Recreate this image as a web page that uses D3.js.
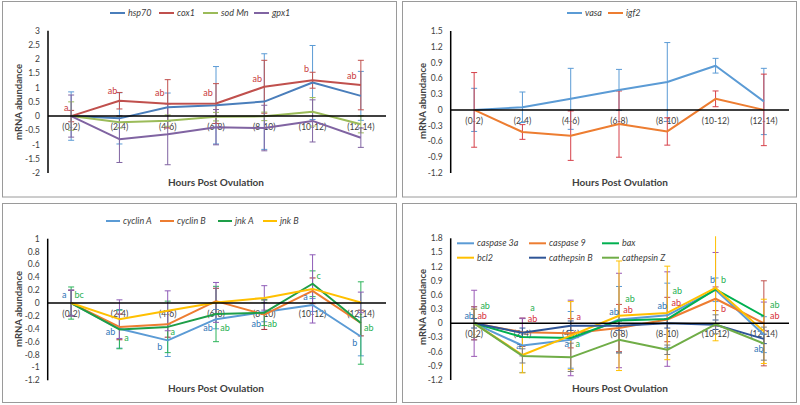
<!DOCTYPE html>
<html><head><meta charset="utf-8">
<script src="https://cdn.jsdelivr.net/npm/d3@7"></script>
<style>body{margin:0;background:#fff;} svg{display:block;font-family:Lato,"Open Sans",sans-serif;}</style>
</head><body><svg id="c" width="800" height="405"></svg>
<script>
// ---------- data ----------
const categories = ["(0-2)","(2-4)","(4-6)","(6-8)","(8-10)","(10-12)","(12-14)"];

// panel 1
const p1Ticks = [3,2.5,2,1.5,1,0.5,0,-0.5,-1,-1.5,-2];
const hsp70    = [0,-0.08,0.31,0.38,0.51,1.18,0.71];
const hsp70Err = [0.85,0.9,0.5,1.36,1.68,1.3,0.86];
const cox1     = [0,0.54,0.43,0.44,1.03,1.26,1.09];
const cox1Err  = [0.2,0.29,0.85,0.7,0.93,0.28,0.87];
const sodMn    = [0,-0.22,-0.16,-0.02,-0.01,0.15,-0.29];
const sodMnErr = [0.5,0.2,0.2,0.15,0.15,0.5,0.3];
const gpx1     = [0,-0.81,-0.64,-0.39,-0.42,-0.17,-0.76];
const gpx1Err  = [0.74,0.82,1.07,0.62,0.8,0.74,0.34];
const cox1Letters = ["a","ab","ab","ab","ab","b","ab"];
const cox1LetterY = [0.30,0.9,0.82,0.82,1.31,1.66,1.41];

// panel 2
const p2Ticks = [1.5,1.2,0.9,0.6,0.3,0,-0.3,-0.6,-0.9,-1.2];
const vasa     = [0,0.05,0.21,0.38,0.53,0.84,0.16];
const vasaErr  = [0.41,0.29,0.58,0.39,0.75,0.14,0.63];
const igf2     = [0,-0.42,-0.49,-0.27,-0.41,0.21,0.0];
const igf2Err  = [0.71,0.14,0.47,0.63,0.26,0.15,0.68];

// panel 3
const p3Ticks = [1,0.8,0.6,0.4,0.2,0,-0.2,-0.4,-0.6,-0.8,-1,-1.2];
const cyclinA    = [0,-0.40,-0.58,-0.25,-0.14,-0.03,-0.52];
const cyclinAErr = [0.2,0.3,0.25,0.15,0.15,0.1,0.3];
const cyclinB    = [0,-0.37,-0.33,0.03,-0.18,0.19,-0.31];
const cyclinBErr = [0.2,0.2,0.2,0.2,0.23,0.2,0.2];
const jnkA       = [0,-0.41,-0.37,-0.17,-0.15,0.30,-0.31];
const jnkAErr    = [0.25,0.3,0.4,0.43,0.2,0.2,0.64];
const jnkB       = [0,-0.25,-0.12,0.01,0.08,0.22,0.01];
const jnkBErr    = [0.2,0.3,0.31,0.31,0.19,0.53,0.16];
const cyclinALetters = ["a","ab","b","ab","ab","a","b"];
const cyclinALetterY = [0.13,-0.45,-0.68,-0.39,-0.32,0.09,-0.62];
const jnkALetters = ["bc","a","a","ab","ab","c","ab"];
const jnkALetterY = [0.13,-0.54,-0.44,-0.39,-0.32,0.42,-0.39];

// panel 4
const p4Ticks = [1.8,1.5,1.2,0.9,0.6,0.3,0,-0.3,-0.6,-0.9,-1.2];
const caspase3a    = [0,-0.47,-0.35,0.08,0.17,0.71,-0.24];
const caspase3aErr = [0.35,0.57,0.6,0.7,0.68,0.25,0.38];
const caspase9     = [0,-0.19,-0.21,-0.1,0.08,0.52,0.0];
const caspase9Err  = [0.35,0.3,0.31,0.5,0.47,0.25,0.9];
const bax          = [0,-0.29,-0.31,0.06,0.09,0.72,0.15];
const baxErr       = [0.7,0.4,0.8,1.0,1.0,0.78,0.3];
const bcl2         = [0,-0.67,-0.26,0.16,0.22,0.75,-0.17];
const bcl2Err      = [0.3,0.38,0.72,1.16,0.99,1.12,0.68];
const cathepsinB   = [0,-0.2,-0.05,-0.05,0.0,-0.03,-0.33];
const cathepsinBErr= [0.1,0.1,0.1,0.1,0.1,0.1,0.1];
const cathepsinZ   = [0,-0.69,-0.72,-0.35,-0.56,-0.02,-0.43];
const cathepsinZErr= [0.3,0.15,0.3,0.28,0.1,0.2,0.35];
const caspase3aLetters = ["ab","a","a","ab","ab","b","ab"];
const caspase3aLetterY = [0.15,-0.47,-0.44,0.25,0.38,0.92,-0.54];
const caspase9Letters  = ["ab","ab","a","ab","ab","b","ab"];
const caspase9LetterY  = [0.15,0.1,0.14,0.29,0.44,0.31,0.15];
const baxLetters       = ["ab","a","a","ab","ab","b","ab"];
const baxLetterY       = [0.38,0.32,-0.44,0.52,0.69,0.92,0.39];

// ---------- layout / styles ----------
const panels = [
  { box:[2.5,1.5,394,195.5], range:[47,385], axisX:48, top:30.7, bottom:173, domain:[-2,3], ticks:p1Ticks,
    xTitle:[216,182], yTitle:[19,102],
    legend:{y:[13], x:[110,159,203,254], len:15},
    series:[
      {name:"hsp70", v:hsp70, e:hsp70Err, c:"#4A7EBB", ec:"#5B9BD5"},
      {name:"cox1", v:cox1, e:cox1Err, c:"#C0504D", ec:"#C0504D"},
      {name:"sod Mn", v:sodMn, e:sodMnErr, c:"#9BBB59", ec:"#9BBB59"},
      {name:"gpx1", v:gpx1, e:gpx1Err, c:"#8064A2", ec:"#8064A2"}],
    letters:[{t:cox1Letters, y:cox1LetterY, dx:[-5,-7,-8,-8,-7,-6,-9], c:"#C8393B"}] },
  { box:[402.5,1.5,394,195.5], range:[450,788], axisX:450.7, top:31, bottom:173, domain:[-1.2,1.5], ticks:p2Ticks,
    xTitle:[620,182], yTitle:[423,101],
    legend:{y:[13], x:[567,608], len:15},
    series:[
      {name:"vasa", v:vasa, e:vasaErr, c:"#5B9BD5", ec:"#5B9BD5"},
      {name:"igf2", v:igf2, e:igf2Err, c:"#ED7D31", ec:"#D6404A"}],
    letters:[] },
  { box:[2.5,203.5,394,199], range:[47,385], axisX:47.7, top:238.7, bottom:380.3, domain:[-1.2,1], ticks:p3Ticks,
    xTitle:[216,388], yTitle:[19,309],
    legend:{y:[221], x:[106,160,218,263], len:14},
    series:[
      {name:"cyclin A", v:cyclinA, e:cyclinAErr, c:"#5B9BD5", ec:"#5B9BD5"},
      {name:"cyclin B", v:cyclinB, e:cyclinBErr, c:"#ED7D31", ec:"#A0303A"},
      {name:"jnk A", v:jnkA, e:jnkAErr, c:"#1E9E48", ec:"#2DB45A"},
      {name:"jnk B", v:jnkB, e:jnkBErr, c:"#FFC000", ec:"#8F5CB8"}],
    letters:[{t:cyclinALetters, y:cyclinALetterY, dx:[-7,-9,-8,-8,-8,-7,-6], c:"#2E75B6"},
             {t:jnkALetters, y:jnkALetterY, dx:[8,7,5,9,8,6,8], c:"#1FAF50"}] },
  { box:[402.5,203.5,394,199], range:[450,788], axisX:450.7, top:238.3, bottom:380, domain:[-1.2,1.8], ticks:p4Ticks,
    xTitle:[620,388], yTitle:[423,307],
    legend:{y:[243.3,257.7], x:[457,529,602], len:17, cols:3},
    series:[
      {name:"caspase 3a", v:caspase3a, e:caspase3aErr, c:"#5B9BD5", ec:"#5B9BD5"},
      {name:"caspase 9", v:caspase9, e:caspase9Err, c:"#ED7D31", ec:"#C0504D"},
      {name:"bax", v:bax, e:baxErr, c:"#00B050", ec:"#9B59B6"},
      {name:"bcl2", v:bcl2, e:bcl2Err, c:"#FFC000", ec:"#FFC000"},
      {name:"cathepsin B", v:cathepsinB, e:cathepsinBErr, c:"#2F5597", ec:"#2F5597"},
      {name:"cathepsin Z", v:cathepsinZ, e:cathepsinZErr, c:"#70AD47", ec:"#7F7F7F"}],
    letters:[{t:caspase3aLetters, y:caspase3aLetterY, dx:[-5,-4,-4,-5,-5,-3,-5], c:"#2E75B6"},
             {t:caspase9Letters, y:caspase9LetterY, dx:[8,10,8,9,9,8,11], c:"#D62F3A"},
             {t:baxLetters, y:baxLetterY, dx:[11,10,7,11,10,8,11], c:"#1FAF50"}] }
];

const svg = d3.select("#c");
svg.append("rect").attr("width",800).attr("height",405).attr("fill","#fff");

panels.forEach((p, pi) => {
  const g = svg.append("g");
  g.append("rect").attr("x",p.box[0]).attr("y",p.box[1]).attr("width",p.box[2]).attr("height",p.box[3])
    .attr("fill","#fff").attr("stroke","#9a9a9a").attr("stroke-width",1);

  const x = d3.scalePoint().domain(categories).range(p.range).padding(0.5);
  const y = d3.scaleLinear().domain(p.domain).range([p.bottom, p.top]);

  const cid = "clip"+pi;
  svg.append("clipPath").attr("id",cid).append("rect")
    .attr("x",p.axisX).attr("y",p.top-2).attr("width",p.range[1]-p.axisX+4).attr("height",p.bottom-p.top+4);

  g.selectAll(".yt").data(p.ticks).enter().append("text")
    .attr("x",p.axisX-8).attr("y",d=>y(d)).attr("dy","0.35em")
    .attr("text-anchor","end").attr("font-size","8.5px").attr("fill","#404040")
    .text(d=>String(d));

  g.append("line").attr("x1",p.axisX).attr("x2",p.axisX).attr("y1",y(p.domain[1])).attr("y2",y(p.domain[0]))
    .attr("stroke","#000").attr("stroke-width",1.5);

  g.selectAll(".xt").data(categories).enter().append("text")
    .attr("x",d=>x(d)).attr("y",y(0)+11).attr("dy","0.35em")
    .attr("text-anchor","middle").attr("font-size","8.5px").attr("fill","#404040").text(d=>d);

  const plot = g.append("g").attr("clip-path",`url(#${cid})`);

  p.series.forEach(s => {
    const eg = plot.append("g").attr("stroke",s.ec).attr("stroke-width",1);
    categories.forEach((c,i) => {
      const cx = x(c), y1 = y(s.v[i]-s.e[i]), y2 = y(s.v[i]+s.e[i]);
      eg.append("line").attr("x1",cx).attr("x2",cx).attr("y1",y1).attr("y2",y2);
      eg.append("line").attr("x1",cx-3).attr("x2",cx+3).attr("y1",y1).attr("y2",y1);
      eg.append("line").attr("x1",cx-3).attr("x2",cx+3).attr("y1",y2).attr("y2",y2);
    });
  });

  g.append("line").attr("x1",p.axisX).attr("x2",p.range[1]+1).attr("y1",y(0)).attr("y2",y(0))
    .attr("stroke","#000").attr("stroke-width",1.5);

  const line = d3.line().x((d,i)=>x(categories[i])).y(d=>y(d));
  p.series.forEach(s => {
    plot.append("path").attr("d",line(s.v)).attr("fill","none").attr("stroke",s.c)
      .attr("stroke-width",2).attr("stroke-linejoin","round");
  });

  p.letters.forEach(L => {
    L.t.forEach((t,i) => {
      g.append("text").attr("x",x(categories[i])+L.dx[i]).attr("y",y(L.y[i])).attr("dy","0.35em")
        .attr("text-anchor","middle").attr("font-size","9px").attr("fill",L.c).text(t);
    });
  });

  const cols = p.legend.cols || p.series.length;
  p.series.forEach((s,i) => {
    const lx = p.legend.x[i % cols], ly = p.legend.y[Math.floor(i / cols)];
    g.append("line").attr("x1",lx).attr("x2",lx+p.legend.len).attr("y1",ly).attr("y2",ly)
      .attr("stroke",s.c).attr("stroke-width",2);
    g.append("text").attr("x",lx+p.legend.len+3).attr("y",ly).attr("dy","0.35em")
      .attr("font-size","9px").attr("font-style","italic").attr("fill","#404040").text(s.name);
  });

  g.append("text").attr("x",p.xTitle[0]).attr("y",p.xTitle[1]).attr("dy","0.35em").attr("text-anchor","middle")
    .attr("font-size","10px").attr("font-weight","bold").attr("fill","#404040").text("Hours Post Ovulation");
  g.append("text").attr("transform",`translate(${p.yTitle[0]},${p.yTitle[1]}) rotate(-90)`)
    .attr("dy","0.35em").attr("text-anchor","middle")
    .attr("font-size","9.5px").attr("font-weight","bold").attr("fill","#404040").text("mRNA abundance");
});
</script></body></html>
